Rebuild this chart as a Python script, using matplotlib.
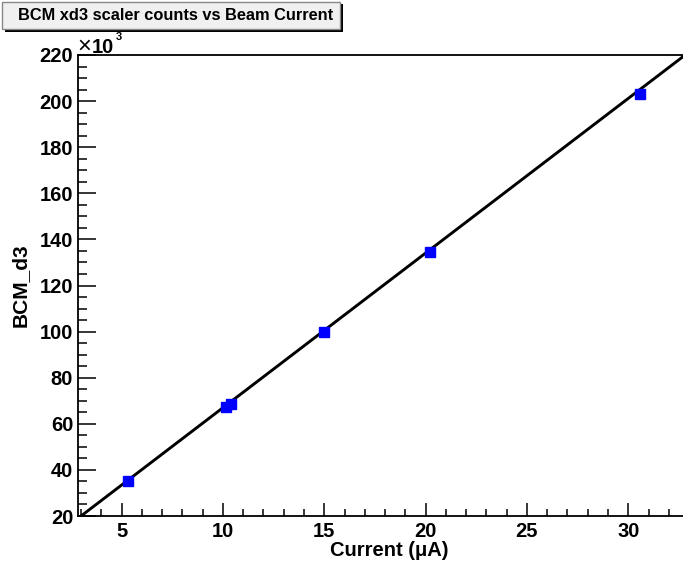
import numpy as np
import matplotlib
matplotlib.use('Agg')
import matplotlib.pyplot as plt
from matplotlib.patches import Rectangle
from matplotlib.ticker import MultipleLocator

plt.rcParams['font.family'] = ['Liberation Sans', 'DejaVu Sans']
plt.rcParams['font.weight'] = 'bold'

# Data (BCM counts in units of 10^3)
current = [5.34, 10.17, 10.40, 15.0, 20.2, 30.6]
bcm_d3 = [35.2, 67.4, 68.8, 100.0, 134.4, 203.0]

# Linear fit parameters
fit_slope = 6.71
fit_offset = -0.13

fig = plt.figure(figsize=(6.83, 5.68), dpi=100)
ax = fig.add_axes([78 / 683, 52 / 568, 605 / 683, 461 / 568])

xmin, xmax = 2.85, 32.7
ax.set_xlim(xmin, xmax)
ax.set_ylim(20, 220)

xs = np.array([xmin, xmax])
ax.plot(xs, fit_slope * xs + fit_offset, color='black', lw=2.1, zorder=2)
ax.plot(current, bcm_d3, 's', color='#0000ff', markersize=6.5, zorder=3)

# ROOT-like axes
ax.spines['right'].set_visible(False)
for s in ['left', 'bottom', 'top']:
    ax.spines[s].set_linewidth(1.3)

ax.xaxis.set_major_locator(MultipleLocator(5))
ax.xaxis.set_minor_locator(MultipleLocator(1))
ax.yaxis.set_major_locator(MultipleLocator(20))
ax.yaxis.set_minor_locator(MultipleLocator(5))
ax.tick_params(axis='x', which='major', direction='in', length=9.5, width=1.1,
               labelsize=14.5, pad=4, top=False)
ax.tick_params(axis='x', which='minor', direction='in', length=5, width=1.1, top=False)
ax.tick_params(axis='y', which='major', direction='in', length=13, width=1.1,
               labelsize=14.5, pad=3.5, right=False)
ax.tick_params(axis='y', which='minor', direction='in', length=6.5, width=1.1, right=False)
for lab in ax.get_xticklabels() + ax.get_yticklabels():
    lab.set_fontweight('bold')

# exponent label
fig.text(77 / 683, 1 - 53 / 568, '\u00d7', fontsize=17, fontweight='normal',
         ha='left', va='baseline')
fig.text(92 / 683, 1 - 53 / 568, '10', fontsize=14.5, fontweight='bold',
         ha='left', va='baseline')
fig.text(116 / 683, 1 - 40 / 568, '3', fontsize=8, fontweight='bold',
         ha='left', va='baseline')

fig.text(448 / 683, 1 - 550 / 568, 'Current (\u03bcA)', fontsize=14.5,
         fontweight='bold', ha='right', va='center')
fig.text(20 / 683, 1 - 285 / 568, 'BCM_d3', fontsize=15, fontweight='bold',
         rotation=90, ha='center', va='center')

# Title box with shadow
fig.patches.append(Rectangle((5 / 683, 1 - 32 / 568), 338 / 683, 28 / 568,
                             transform=fig.transFigure, facecolor='black',
                             edgecolor='none', zorder=1))
fig.patches.append(Rectangle((2 / 683, 1 - 29 / 568), 338 / 683, 27 / 568,
                             transform=fig.transFigure, facecolor='#f0f0f0',
                             edgecolor='#888888', lw=1, zorder=2))
fig.text(176 / 683, 1 - 15.5 / 568, 'BCM xd3 scaler counts vs Beam Current',
         fontsize=11.8, fontweight='bold', ha='center', va='center', zorder=3)

fig.savefig('out.png', dpi=100)
